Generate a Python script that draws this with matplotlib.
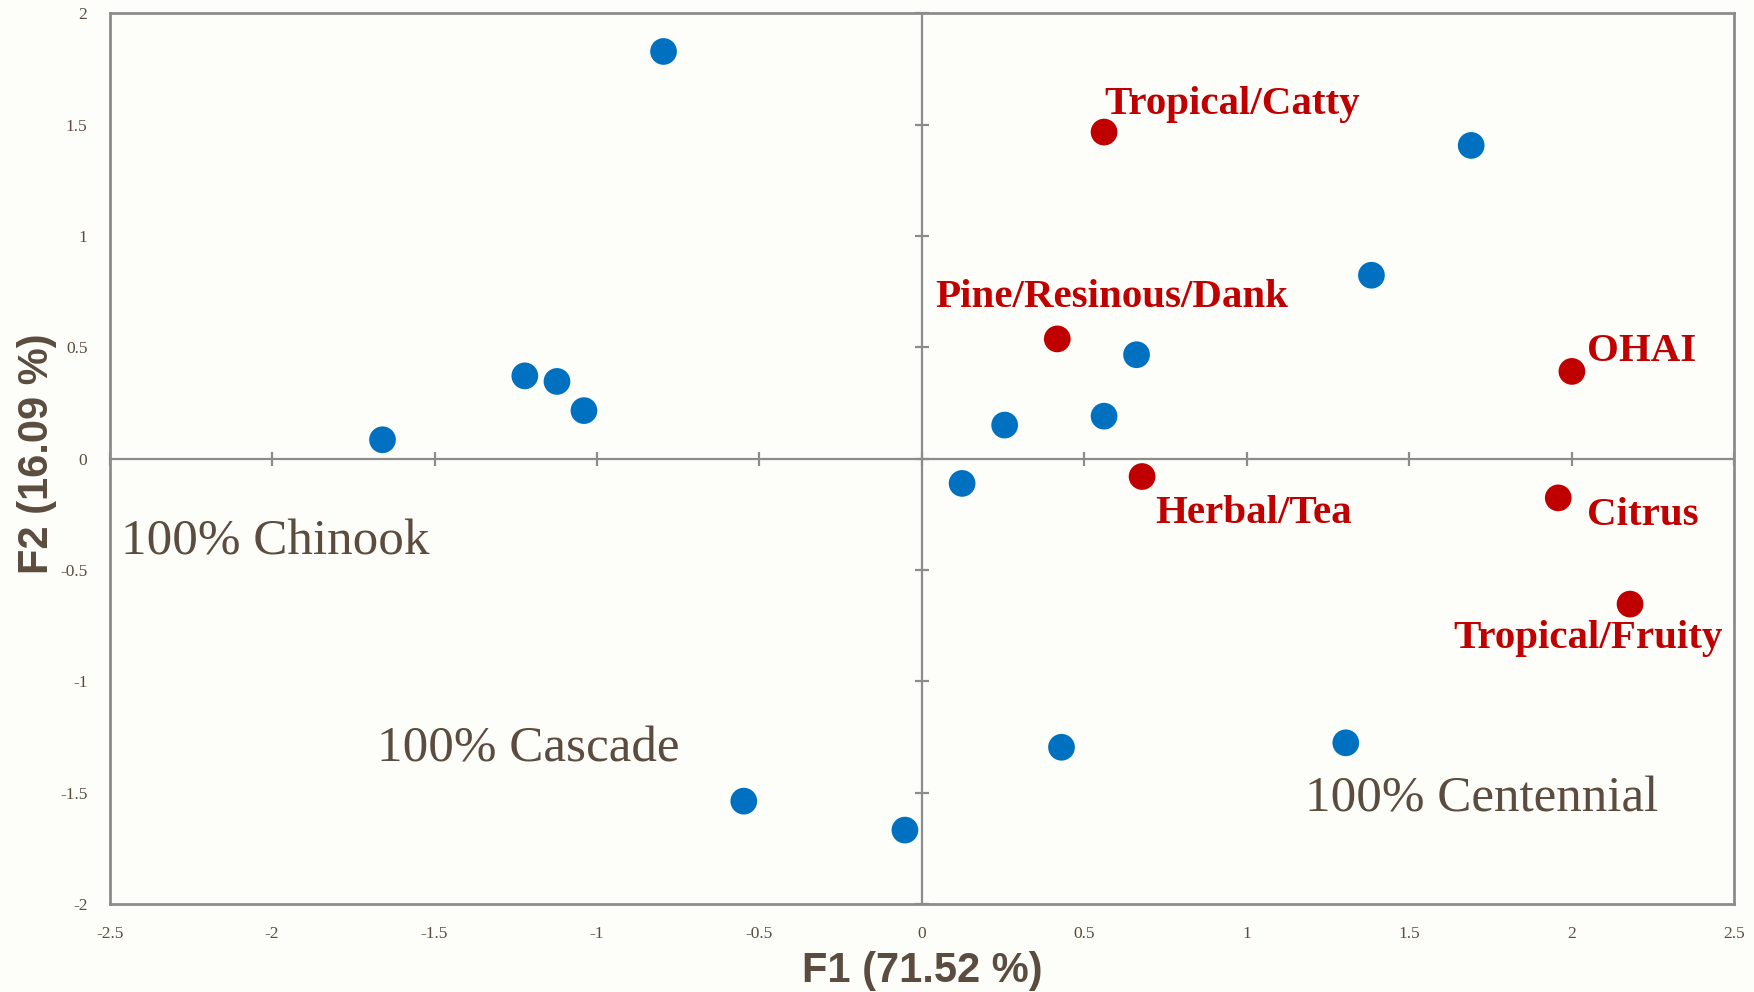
import matplotlib
matplotlib.use("Agg")
import matplotlib.pyplot as plt

# ---- data ----
obs_x = [-0.795, 1.691, 1.384, -1.222, -1.123, -1.040, -1.660, 0.661, 0.255, 0.561,
         0.124, 0.430, 1.305, -0.548, -0.052]
obs_y = [1.829, 1.407, 0.824, 0.372, 0.347, 0.216, 0.085, 0.467, 0.151, 0.191,
         -0.111, -1.296, -1.276, -1.538, -1.668]

var_names = ["Tropical/Catty", "Pine/Resinous/Dank", "OHAI", "Herbal/Tea", "Citrus", "Tropical/Fruity"]
var_x = [0.561, 0.417, 2.001, 0.678, 1.959, 2.180]
var_y = [1.467, 0.538, 0.392, -0.080, -0.176, -0.653]
# label anchor (left edge, vertical centre) in data units
lab_x = [0.561, 0.041, 2.049, 0.717, 2.049, 1.635]
lab_y = [1.593, 0.724, 0.482, -0.246, -0.256, -0.809]

regions = ["100% Chinook", "100% Cascade", "100% Centennial"]
reg_x = [-2.466, -1.677, 1.181]
reg_y = [-0.377, -1.306, -1.528]

xticks = [-2.5, -2, -1.5, -1, -0.5, 0, 0.5, 1, 1.5, 2, 2.5]
yticks = [-2, -1.5, -1, -0.5, 0, 0.5, 1, 1.5, 2]
xlabel = "F1 (71.52 %)"
ylabel = "F2 (16.09 %)"

# ---- style ----
bg = "#FDFEF9"
grey = "#8C8C8C"
brown = "#5B4C3F"
blue = "#0070C0"
red = "#C00000"

fig = plt.figure(figsize=(17.54, 9.92), dpi=100, facecolor=bg)
ax = fig.add_axes([0.0625, 0.0887, 0.9261, 0.8978], facecolor=bg)
ax.set_xlim(-2.5, 2.5)
ax.set_ylim(-2, 2)

for s in ax.spines.values():
    s.set_color(grey)
    s.set_linewidth(2)

ax.axhline(0, color=grey, lw=1.6, zorder=1)
ax.axvline(0, color=grey, lw=1.6, zorder=1)
# crossing tick marks on the zero lines
ax.plot(xticks, [0] * len(xticks), ls="none", marker="|", ms=9.5, mew=1.6, color=grey, zorder=1, clip_on=False)
ax.plot([0] * len(yticks), yticks, ls="none", marker="_", ms=9.5, mew=1.6, color=grey, zorder=1, clip_on=False)

ax.set_xticks(xticks)
ax.set_yticks(yticks)
ax.set_xticklabels([f"{v:g}" for v in xticks])
ax.set_yticklabels([f"{v:g}" for v in yticks])
ax.tick_params(length=0, labelsize=12.5, labelcolor=brown, pad=16)
for t in ax.get_xticklabels() + ax.get_yticklabels():
    t.set_fontfamily("Liberation Serif")

ax.scatter(obs_x, obs_y, s=370, color=blue, edgecolors="none", zorder=3)
ax.scatter(var_x, var_y, s=370, color=red, edgecolors="none", zorder=3)

for n, x, y in zip(var_names, lab_x, lab_y):
    ax.text(x, y, n, color=red, fontsize=29.5, fontweight="bold", family="Liberation Serif",
            ha="left", va="center", zorder=4)

for n, x, y in zip(regions, reg_x, reg_y):
    ax.text(x, y, n, color=brown, fontsize=36.8, family="Liberation Serif",
            ha="left", va="center", zorder=4)

fig.text(0.5258, 0.021, xlabel, color=brown, fontsize=30, fontweight="bold",
         family="Liberation Sans", ha="center", va="center")
fig.text(0.021, 0.5425, ylabel, color=brown, fontsize=30, fontweight="bold",
         family="Liberation Sans", ha="center", va="center", rotation=90)

fig.savefig("out.png", dpi=100, facecolor=bg)
